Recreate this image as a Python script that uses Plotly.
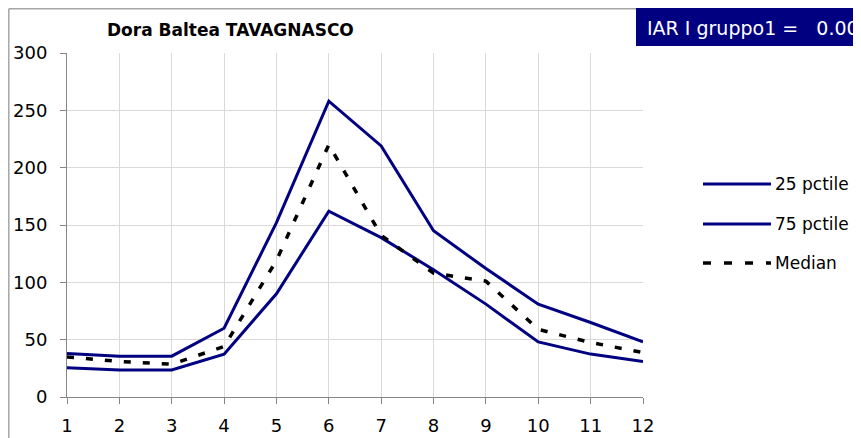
import plotly.graph_objects as go

months = [1, 2, 3, 4, 5, 6, 7, 8, 9, 10, 11, 12]
pct25 = [25.5, 23.6, 23.6, 37.4, 90, 162, 139, 111, 81, 48, 37.4, 31]
pct75 = [38, 35.6, 35.6, 60, 152, 258, 219, 145, 112, 81, 65, 48]
median = [35, 31, 28.6, 44, 119, 220, 141, 108, 101, 59, 47.5, 38.8]

series_names = ["25 pctile", "75 pctile", "Median"]
title_text = "Dora Baltea TAVAGNASCO"
badge_text = "IAR I gruppo1 =\u00a0\u00a0\u00a00.00"

NAVY = "#000080"
FONT = "DejaVu Sans"

# the page body adds an 8px offset, so work in screen pixels and subtract it
OFF = 8
FIG_W, FIG_H = 861, 438 - OFF
# plot area in screen pixels: x 67..643, y 53..397
L, R, T, B = 67, 643, 53, 397
W, H = R - L, B - T


def px(x):
    return (x - L) / W


def py(y):
    return (B - y) / H


fig = go.Figure()
fig.add_trace(go.Scatter(x=months, y=pct25, mode="lines", name=series_names[0],
                         line=dict(color=NAVY, width=3), showlegend=False))
fig.add_trace(go.Scatter(x=months, y=pct75, mode="lines", name=series_names[1],
                         line=dict(color=NAVY, width=3), showlegend=False))
fig.add_trace(go.Scatter(x=months, y=median, mode="lines", name=series_names[2],
                         line=dict(color="black", width=3.5, dash="7px,12px"),
                         showlegend=False))

shapes = [
    # chart frame (left + top)
    dict(type="line", xref="paper", yref="paper", x0=px(8.8), x1=px(8.8), y0=py(8.8), y1=py(445),
         line=dict(color="#a6a6a6", width=1.5)),
    dict(type="line", xref="paper", yref="paper", x0=px(8.8), x1=px(636), y0=py(8.8), y1=py(8.8),
         line=dict(color="#a6a6a6", width=1.5)),
    # badge
    dict(type="rect", xref="paper", yref="paper", x0=px(636), x1=px(880), y0=py(46), y1=py(8),
         fillcolor=NAVY, line=dict(width=0)),
]

annotations = [
    dict(text="<b>" + title_text + "</b>", xref="paper", yref="paper",
         x=px(230), y=py(30), showarrow=False, xanchor="center", yanchor="middle",
         font=dict(family=FONT, size=17, color="black")),
    dict(text=badge_text, xref="paper", yref="paper",
         x=px(645), y=py(28), showarrow=False, xanchor="left", yanchor="middle",
         font=dict(family=FONT, size=19, color="white")),
]

# legend drawn by hand to get the long line samples
leg_y = [184, 224, 263]
leg_styles = [dict(color=NAVY, width=3), dict(color=NAVY, width=3),
              dict(color="black", width=3.5, dash="8px,13px")]
for name, yy, st in zip(series_names, leg_y, leg_styles):
    shapes.append(dict(type="line", xref="paper", yref="paper", x0=px(703), x1=px(771),
                       y0=py(yy), y1=py(yy), line=st))
    annotations.append(dict(text=name, xref="paper", yref="paper", x=px(773), y=py(yy),
                            showarrow=False, xanchor="left", yanchor="middle",
                            font=dict(family=FONT, size=17, color="black")))

fig.update_layout(
    width=FIG_W, height=FIG_H,
    margin=dict(l=L - OFF, r=FIG_W + OFF - R, t=T - OFF, b=438 - B),
    plot_bgcolor="white", paper_bgcolor="white",
    shapes=shapes, annotations=annotations,
    font=dict(family=FONT, size=18, color="black"),
)
fig.update_xaxes(range=[1, 12], tickvals=months, showgrid=True, gridcolor="#d9d9d9",
                 gridwidth=1, showline=True, linecolor="#868686", ticks="outside",
                 ticklen=6, tickcolor="#868686", zeroline=False, ticklabelstandoff=6,
                 automargin=False, tickfont=dict(family=FONT, size=18))
fig.update_yaxes(range=[0, 300], dtick=50, showgrid=True, gridcolor="#d9d9d9",
                 gridwidth=1, showline=True, linecolor="#868686", ticks="outside",
                 ticklen=6, tickcolor="#868686", zeroline=False, ticklabelstandoff=9,
                 automargin=False, tickfont=dict(family=FONT, size=18))

fig.write_html("out.html")
